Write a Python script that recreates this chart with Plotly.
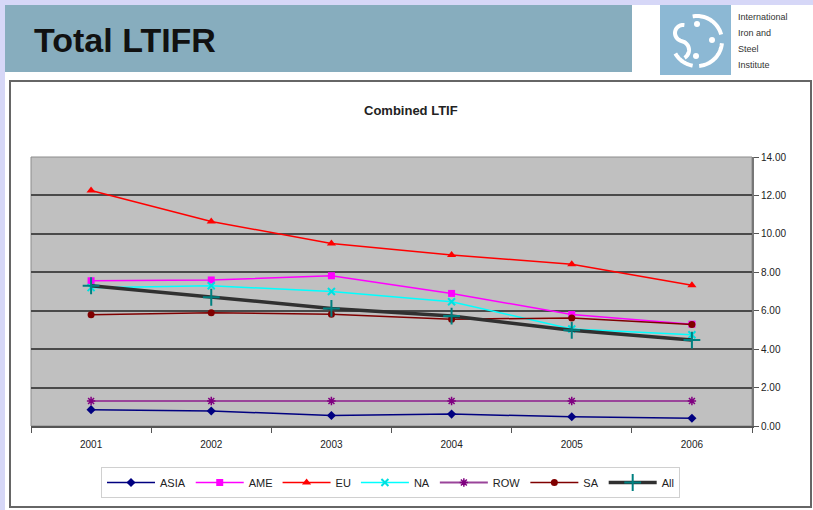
import numpy as np
import plotly.graph_objects as go

# ---- data -------------------------------------------------------------
years = ["2001", "2002", "2003", "2004", "2005", "2006"]
asia = [0.85, 0.78, 0.55, 0.62, 0.48, 0.40]
ame = [7.56, 7.60, 7.82, 6.90, 5.80, 5.30]
eu = [12.26, 10.64, 9.50, 8.90, 8.42, 7.33]
na = [7.20, 7.30, 7.00, 6.47, 5.05, 4.75]
row = [1.30, 1.30, 1.30, 1.30, 1.30, 1.30]
sa = [5.79, 5.90, 5.82, 5.56, 5.62, 5.28]
all_regions = [7.30, 6.70, 6.12, 5.72, 4.98, 4.47]

y_ticks = [0, 2, 4, 6, 8, 10, 12, 14]

# ---- page geometry (pixels) -------------------------------------------
W, H = 813, 510
PL, PR, PT, PB = 31, 752, 157, 426  # plot area edges


def fx(px):
    return (px - PL) / (PR - PL)


def fy(py):
    return (PB - py) / (PB - PT)


FONT = "Arial, Liberation Sans, sans-serif"

fig = go.Figure()

series = [
    ("ASIA", asia, dict(color="#000080", width=1.5), dict(symbol="diamond", size=7, color="#000080")),
    ("AME", ame, dict(color="#ff00ff", width=1.5), dict(symbol="square", size=7, color="#ff00ff")),
    ("EU", eu, dict(color="#ff0000", width=1.5), dict(symbol="triangle-up", size=8, color="#ff0000")),
    ("NA", na, dict(color="#00ffff", width=1.5),
     dict(symbol="x-thin", size=7, color="#00e0e0", line=dict(color="#00e0e0", width=2))),
    ("ROW", row, dict(color="#9a449a", width=2),
     dict(symbol="asterisk-open", size=7, color="#800080", line=dict(color="#800080", width=1.5))),
    ("SA", sa, dict(color="#800000", width=1.5), dict(symbol="circle", size=7, color="#800000")),
    ("All", all_regions, dict(color="#303030", width=3.5),
     dict(symbol="cross-thin", size=12, color="#008080", line=dict(color="#008080", width=2))),
]

for name, vals, line, marker in series:
    fig.add_trace(go.Scatter(
        x=years, y=vals, name=name, mode="lines+markers",
        line=line, marker=marker, cliponaxis=False,
    ))

shapes = []
# white page body
shapes.append(dict(type="rect", xref="paper", yref="paper", layer="below",
                   x0=fx(5), x1=fx(W + 2), y0=fy(H + 2), y1=fy(5),
                   fillcolor="white", line=dict(width=0)))
# title banner
shapes.append(dict(type="rect", xref="paper", yref="paper", layer="below",
                   x0=fx(5), x1=fx(632), y0=fy(72), y1=fy(5),
                   fillcolor="#87adbe", line=dict(width=0)))
# logo tile
shapes.append(dict(type="rect", xref="paper", yref="paper", layer="below",
                   x0=fx(660), x1=fx(731), y0=fy(75), y1=fy(5),
                   fillcolor="#8cb8d4", line=dict(width=0)))
# chart frame
shapes.append(dict(type="rect", xref="paper", yref="paper", layer="below",
                   x0=fx(10), x1=fx(811), y0=fy(507), y1=fy(81),
                   fillcolor="white", line=dict(color="#666666", width=2)))
# plot area
shapes.append(dict(type="rect", xref="paper", yref="paper", layer="below",
                   x0=0, x1=1, y0=0, y1=1,
                   fillcolor="#c0c0c0", line=dict(color="#8c8c8c", width=1)))


# logo emblem: broken ring, S-curve and three dots
def arc_path(cx, cy, r, a0, a1, n=30):
    a = np.radians(np.linspace(a0, a1, n))
    xs = cx + r * np.cos(a)
    ys = cy - r * np.sin(a)
    pts = [f"{fx(x):.5f},{fy(y):.5f}" for x, y in zip(xs, ys)]
    return "M" + " L".join(pts)


cx, cy, r = 697, 41, 25
for a0, a1 in [(100, 15), (-5, -85), (-100, -150)]:
    shapes.append(dict(type="path", xref="paper", yref="paper", layer="below",
                       path=arc_path(cx, cy, r, a0, a1),
                       line=dict(color="white", width=4)))
shapes.append(dict(type="path", xref="paper", yref="paper", layer="below",
                   path=arc_path(683, 33, 8, 80, 250) + " " + arc_path(680, 50, 9, 70, -60).replace("M", "L", 1),
                   line=dict(color="white", width=4)))
for dx, dy in [(697, 24), (712, 40), (696, 56)]:
    shapes.append(dict(type="circle", xref="paper", yref="paper", layer="below",
                       x0=fx(dx - 3), x1=fx(dx + 3), y0=fy(dy + 3), y1=fy(dy - 3),
                       fillcolor="white", line=dict(width=0)))

annotations = [
    dict(text="<b>Total LTIFR</b>", x=fx(32), y=fy(40), xref="paper", yref="paper",
         xanchor="left", yanchor="middle", showarrow=False,
         font=dict(family=FONT, size=34, color="#111111")),
    dict(text="<b>Combined LTIF</b>", x=fx(411), y=fy(110), xref="paper", yref="paper",
         xanchor="center", yanchor="middle", showarrow=False,
         font=dict(family=FONT, size=13, color="#222222")),
]
for i, word in enumerate(["International", "Iron and", "Steel", "Institute"]):
    annotations.append(dict(text=word, x=fx(736), y=fy(17 + i * 16), xref="paper", yref="paper",
                            xanchor="left", yanchor="middle", showarrow=False,
                            font=dict(family=FONT, size=9, color="#333333")))

fig.update_layout(
    width=W, height=H,
    margin=dict(l=PL, r=W - PR, t=PT, b=H - PB),
    paper_bgcolor="#d6d7f7",
    plot_bgcolor="rgba(0,0,0,0)",
    shapes=shapes,
    annotations=annotations,
    font=dict(family=FONT, size=10, color="#222222"),
    legend=dict(
        orientation="h", x=fx(101), y=fy(467), xanchor="left", yanchor="top",
        bgcolor="white", bordercolor="#d0d0d0", borderwidth=1,
        font=dict(family=FONT, size=11, color="#222222"),
        itemwidth=48, tracegroupgap=0,
    ),
    showlegend=True,
)

fig.update_xaxes(
    type="category", range=[-0.5, 5.5], showgrid=False,
    showline=True, linecolor="#555555", linewidth=1.5,
    ticks="outside", ticklen=5, tickcolor="#555555", tickson="boundaries",
    ticklabelstandoff=8,
    tickfont=dict(family=FONT, size=10, color="#222222"), zeroline=False,
)
fig.update_yaxes(
    side="right", range=[0, 14], tickvals=y_ticks, tickformat=".2f",
    showgrid=True, gridcolor="#4a4a4a", gridwidth=1.8,
    showline=True, linecolor="#777777", linewidth=2,
    ticks="outside", ticklen=5, tickcolor="#555555",
    tickfont=dict(family=FONT, size=10, color="#222222"), zeroline=False,
)

fig.write_html("out.html")
